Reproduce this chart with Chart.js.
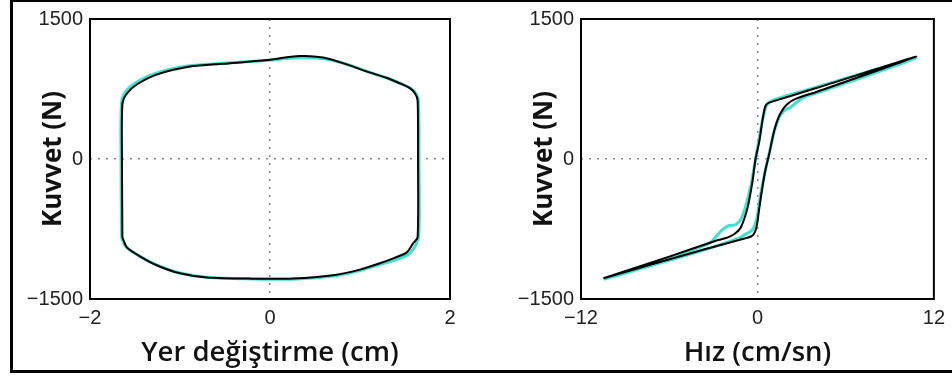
<!DOCTYPE html>
<html>
<head>
<meta charset="utf-8">
<script src="https://cdn.jsdelivr.net/npm/chart.js@4.4.1/dist/chart.umd.min.js"></script>
<style>
  html, body { margin: 0; background: #fff; }
  body { width: 952px; height: 383px; position: relative; overflow: hidden; }
  .box { position: absolute; top: 0; height: 370px; width: 476px; }
  #left { left: 0; }
  #right { left: 476px; }
  .frame { position: absolute; left: 10px; top: -1px; width: 960px; height: 368px; border: 3px solid #000; pointer-events: none; }
</style>
</head>
<body>
<div class="box" id="left"><canvas id="c1"></canvas></div>
<div class="box" id="right"><canvas id="c2"></canvas></div>
<div class="frame"></div>
<script>
"use strict";

// left panel: force vs displacement loop
const dispTicks = [-2, 0, 2];
const forceTicks = [-1500, 0, 1500];
const dispModel  = [-1.64, -1.645, -1.64, -1.59, -1.48, -1.26, -0.89, -0.52, -0.08, 0.33, 0.59, 0.82, 1.08, 1.30, 1.44, 1.55, 1.61, 1.64, 1.645, 1.64, 1.59, 1.52, 1.37, 1.22, 1.00, 0.70, 0.26, -0.20, -0.70, -1.00, -1.26, -1.45, -1.59, -1.64];
const forceModel = [-840, 0, 585, 702, 798, 904, 990, 1021, 1055, 1103, 1088, 1025, 936, 868, 812, 762, 705, 630, 0, -840, -904, -1000, -1064, -1117, -1185, -1245, -1280, -1282, -1270, -1225, -1138, -1040, -947, -840];
const dispTest   = [-1.65, -1.655, -1.65, -1.61, -1.50, -1.28, -0.90, -0.52, -0.08, 0.33, 0.62, 0.85, 1.10, 1.32, 1.46, 1.57, 1.63, 1.65, 1.655, 1.655, 1.62, 1.54, 1.38, 1.22, 1.00, 0.70, 0.26, -0.20, -0.70, -1.00, -1.26, -1.46, -1.60, -1.65];
const forceTest  = [-840, 0, 590, 712, 812, 915, 998, 1025, 1052, 1085, 1070, 1015, 930, 860, 805, 752, 690, 610, 0, -800, -920, -1020, -1085, -1130, -1195, -1255, -1288, -1285, -1268, -1222, -1135, -1035, -940, -840];

// right panel: force vs velocity loop
const velTicks = [-12, 0, 12];
const velModel   = [-10.47, -6.0, -2.67, -2.0, -1.5, -1.13, -0.67, -0.33, -0.13, 0.13, 0.33, 0.53, 0.70, 0.95, 4.0, 10.8,
                    4.0, 2.67, 2.0, 1.53, 1.13, 0.8, 0.53, 0.33, 0.13, -0.07, -0.33, -0.87, -4.0, -10.47];
const fvModel    = [-1277, -1046, -868, -840, -795, -734, -521, -234, 0, 191, 404, 564, 598, 612, 760, 1096,
                    718, 649, 585, 479, 298, 53, -128, -309, -521, -734, -819, -851, -985, -1277];
const velTest    = [-10.47, -6.0, -3.3, -2.8, -2.4, -1.95, -1.5, -1.1, -0.75, -0.45, -0.15, 0.1, 0.35, 0.6, 0.9, 1.4, 4.0, 10.8,
                    4.0, 3.2, 2.7, 2.25, 1.85, 1.5, 1.15, 0.8, 0.5, 0.22, -0.05, -0.35, -0.8, -1.3, -4.0, -10.47];
const fvTest     = [-1290, -1060, -905, -830, -760, -715, -705, -640, -480, -290, -20, 200, 420, 570, 615, 650, 770, 1080,
                    705, 665, 610, 555, 520, 455, 300, 60, -150, -380, -640, -760, -805, -850, -992, -1290];

const TEST_COLOR = "#40e0d0";
const pts = (xs, ys) => xs.map((x, i) => ({ x, y: ys[i] }));
const minus = v => String(v).replace("-", "\u2212");

// plot box drawn round the chart area
const frame = {
  id: "frame",
  afterDatasetsDraw(c) {
    const a = c.chartArea, g = c.ctx;
    g.save();
    g.lineWidth = 2;
    g.strokeStyle = "#000";
    g.strokeRect(a.left, a.top, a.right - a.left, a.bottom - a.top);
    g.restore();
  }
};

function axis(ticks, title, titleFont, titlePad, fit) {
  return {
    type: "linear",
    min: ticks[0], max: ticks[ticks.length - 1],
    afterBuildTicks: s => { s.ticks = ticks.map(v => ({ value: v })); },
    afterFit: fit,
    ticks: { color: "#222", font: { family: "Liberation Sans", size: 20 }, padding: 7, callback: v => minus(v) },
    grid: { drawTicks: false, lineWidth: 1.5, color: c => c.tick && c.tick.value === 0 ? "#8a8a8a" : "rgba(0,0,0,0)" },
    border: { display: false, dash: [2, 6] },
    title: { display: true, text: title, color: "#111", font: titleFont, padding: titlePad }
  };
}

function panel(id, cfg) {
  return new Chart(document.getElementById(id), {
    type: "scatter",
    data: {
      datasets: [
        { data: cfg.model, showLine: true, borderColor: "#000", borderWidth: 2, pointRadius: 0, tension: 0.25, order: 1 },
        { data: cfg.test, showLine: true, borderColor: TEST_COLOR, borderWidth: 3, pointRadius: 0, tension: 0.3, order: 2 }
      ]
    },
    options: {
      animation: false,
      responsive: true,
      maintainAspectRatio: false,
      layout: { padding: { top: 17, right: cfg.padRight, left: 0, bottom: 0 } },
      plugins: { legend: { display: false }, tooltip: { enabled: false } },
      scales: {
        x: axis(cfg.xTicks, cfg.xTitle, { family: "Open Sans", size: 27.5, weight: "600" }, { top: 0, bottom: 0 }, s => { s.height = 71; }),
        y: axis(forceTicks, "Kuvvet (N)", { family: "Open Sans", size: 26, weight: "bold" }, { top: cfg.yTitlePad, bottom: 0 }, s => { s.width = cfg.yWidth; })
      }
    },
    plugins: [frame]
  });
}

panel("c1", {
  model: pts(dispModel, forceModel), test: pts(dispTest, forceTest),
  xTicks: dispTicks, xTitle: "Yer değiştirme (cm)", padRight: 26, yWidth: 90, yTitlePad: 38
});
panel("c2", {
  model: pts(velModel, fvModel), test: pts(velTest, fvTest),
  xTicks: velTicks, xTitle: "Hız (cm/sn)", padRight: 12, yWidth: 105, yTitlePad: 53
});
</script>
</body>
</html>
